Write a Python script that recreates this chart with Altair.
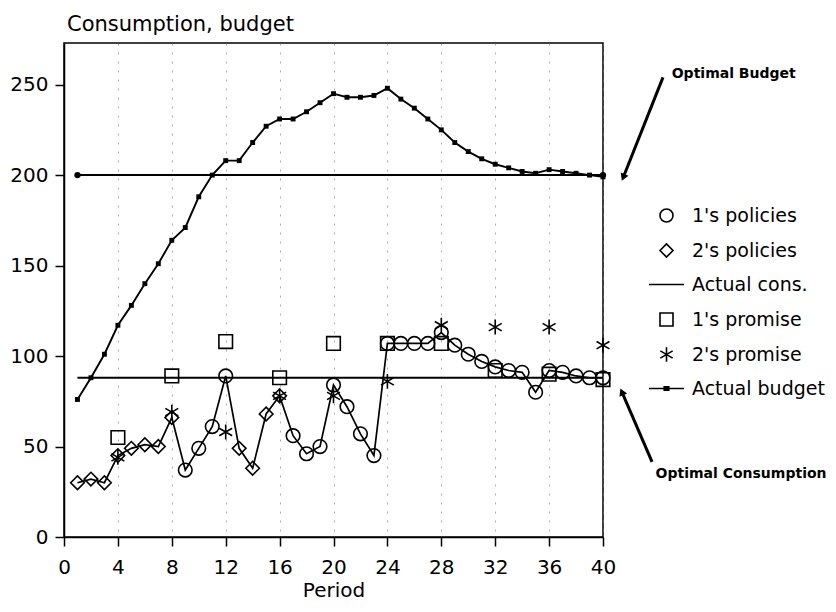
import altair as alt
import pandas as pd

# ---------------- data ----------------
periods = list(range(1, 41))
budget = [76, 88, 101, 117, 128, 140, 151, 164, 171, 188,
          200, 208, 208, 218, 227, 231, 231, 235, 240, 245,
          243, 243, 244, 248, 242, 237, 231, 225, 218, 213,
          209, 206, 204, 202, 201, 203, 202, 201, 200, 199]
consumption = [30, 32, 30, 45, 49, 51, 50, 66, 37, 49,
               61, 89, 49, 38, 68, 78, 56, 46, 50, 84,
               72, 57, 45, 107, 107, 107, 107, 113, 106, 101,
               97, 94, 92, 91, 80, 92, 91, 89, 88, 88]
holder = ["2"] * 8 + ["1"] * 4 + ["2"] * 4 + ["1"] * 24
promise_periods = [4, 8, 12, 16, 20, 24, 28, 32, 36, 40]
promise1 = [55, 89, 108, 88, 107, 107, 107, 92, 90, 87]
promise2 = [44, 69, 58, 78, 78, 86, 117, 116, 116, 106]
optimal_span = [1, 40]
optimal_budget = [200, 200]
optimal_consumption = [88, 88]

legend_labels = ["1's policies", "2's policies", "Actual cons.",
                 "1's promise", "2's promise", "Actual budget"]
legend_shapes = ["circle", "diamond", "M-2.7,0H2.7", "square",
                 "M0,-1.1V1.1M-0.95,-0.55L0.95,0.55M-0.95,0.55L0.95,-0.55",
                 "M-2.7,0H2.7M-0.35,-0.25H0.35V0.25H-0.35Z"]

note_x = [45.1, 43.9]
note_y = [256, 35]
note_text = ["Optimal Budget", "Optimal Consumption"]
arrow_x = [44.45, 43.64]
arrow_y = [254, 41.5]
arrow_x2 = [41.5, 41.4]
arrow_y2 = [198.7, 80.2]
arrow_angle = [201.8, 336.8]

# ---------------- tables ----------------
budget_df = pd.DataFrame({"period": periods, "value": budget})
cons_df = pd.DataFrame({"period": periods, "value": consumption,
                        "series": [f"{h}'s policies" for h in holder]})
prom_df = pd.concat([
    pd.DataFrame({"period": promise_periods, "value": promise1, "series": "1's promise"}),
    pd.DataFrame({"period": promise_periods, "value": promise2, "series": "2's promise"}),
])
points_df = pd.concat([cons_df, prom_df], ignore_index=True)
opt_b_df = pd.DataFrame({"period": optimal_span, "value": optimal_budget})
opt_c_df = pd.DataFrame({"period": optimal_span, "value": optimal_consumption})
note_df = pd.DataFrame({"period": note_x, "value": note_y, "text": note_text})
arrow_df = pd.DataFrame({"period": arrow_x, "value": arrow_y,
                         "period2": arrow_x2, "value2": arrow_y2,
                         "angle": arrow_angle})

xscale = alt.Scale(domain=[0, 40], nice=False)
yscale = alt.Scale(domain=[0, 273], nice=False)
xaxis = alt.Axis(values=list(range(0, 41, 4)), title="Period", grid=True,
                 gridColor="#777", gridDash=[2, 7], gridOpacity=0.6, gridWidth=1,
                 tickSize=9, labelPadding=11, titlePadding=3, labelFlush=False)
yaxis = alt.Axis(values=list(range(0, 251, 50)), title=None, grid=False,
                 tickSize=9, labelPadding=7)

X = alt.X("period:Q", scale=xscale, axis=xaxis)
Y = alt.Y("value:Q", scale=yscale, axis=yaxis)

opt_b = alt.Chart(opt_b_df).mark_line(
    color="black", strokeWidth=2,
    point=alt.OverlayMarkDef(filled=True, color="black", size=40)
).encode(x=X, y=Y)

opt_c = alt.Chart(opt_c_df).mark_line(color="black", strokeWidth=2).encode(x=X, y=Y)

cons_line = alt.Chart(cons_df).mark_line(color="black", strokeWidth=1.7).encode(x=X, y=Y)

budget_line = alt.Chart(budget_df).mark_line(
    color="black", strokeWidth=1.9,
    point=alt.OverlayMarkDef(shape="square", filled=True, color="black", size=24)
).encode(x=X, y=Y)

points = alt.Chart(points_df).mark_point(
    filled=False, color="black", size=185, strokeWidth=1.6, opacity=1
).encode(
    x=X, y=Y,
    shape=alt.Shape("series:N",
                    scale=alt.Scale(domain=legend_labels, range=legend_shapes),
                    legend=alt.Legend(title=None, orient="none", legendX=593, legendY=163,
                                      labelFont="DejaVu Sans", labelFontSize=19,
                                      labelColor="black", labelLimit=400,
                                      symbolSize=169, symbolStrokeWidth=1.6,
                                      symbolStrokeColor="black",
                                      symbolFillColor="transparent",
                                      rowPadding=14, labelOffset=16)),
)

notes = alt.Chart(note_df).mark_text(
    align="left", baseline="middle", font="DejaVu Sans", fontWeight="bold",
    fontSize=14, color="black", clip=False
).encode(x=alt.X("period:Q", scale=xscale, axis=xaxis),
         y=alt.Y("value:Q", scale=yscale, axis=yaxis), text="text:N")

arrows = alt.Chart(arrow_df).mark_rule(
    color="black", strokeWidth=3, clip=False
).encode(x=alt.X("period:Q", scale=xscale, axis=xaxis),
         y=alt.Y("value:Q", scale=yscale, axis=yaxis),
         x2="period2:Q", y2="value2:Q")

heads = alt.Chart(arrow_df).mark_point(
    shape="triangle-up", filled=True, color="black", size=70, opacity=1, clip=False
).encode(x=alt.X("period2:Q", scale=xscale, axis=xaxis),
         y=alt.Y("value2:Q", scale=yscale, axis=yaxis),
         angle=alt.Angle("angle:Q", scale=None))

chart = alt.layer(
    opt_b, opt_c, cons_line, budget_line, points, arrows, heads, notes
).properties(
    width=539, height=494,
    autosize=alt.AutoSizeParams(type="none"),
    padding={"left": 56, "top": 35, "right": 225, "bottom": 67},
    title=alt.TitleParams("Consumption, budget", anchor="start", frame="group",
                          font="DejaVu Sans", fontSize=21, fontWeight="normal",
                          color="black", offset=8, dx=3),
    background="white",
).configure_view(
    stroke="black", strokeWidth=1.5
).configure_axis(
    domainColor="black", domainWidth=1.5, tickColor="black", tickWidth=1.5,
    labelFont="DejaVu Sans", labelFontSize=20, labelColor="black",
    titleFont="DejaVu Sans", titleFontSize=20, titleFontWeight="normal",
    titleColor="black"
)

chart.save("out.html", embed_options={"renderer": "svg", "actions": False})
